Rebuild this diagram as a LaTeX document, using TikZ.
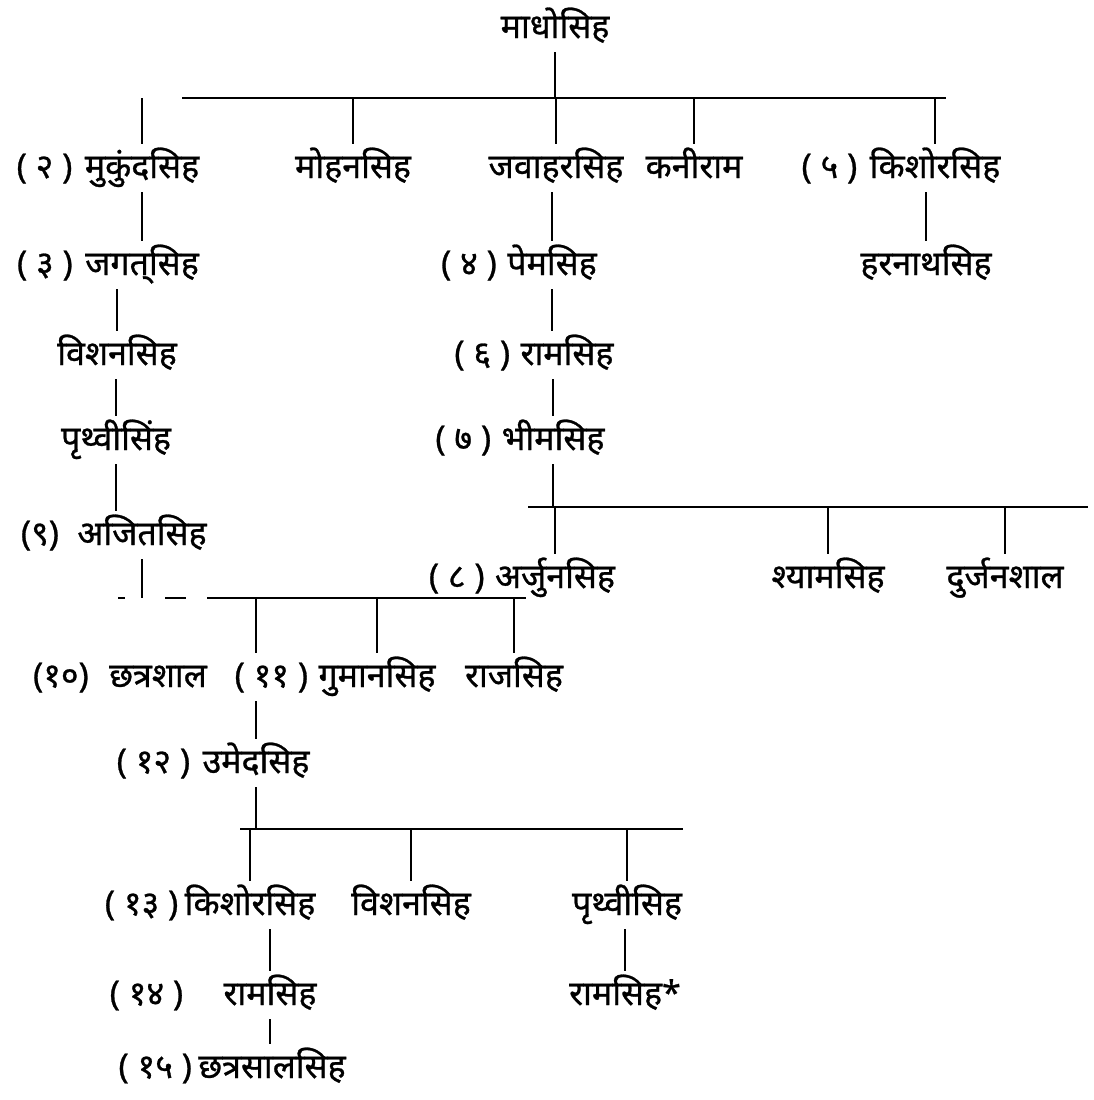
\documentclass[tikz,border=0pt]{standalone}
\usepackage{fontspec}
\newfontfamily\deva[Script=Devanagari, FakeBold=0.8]{Noto Sans}
\usetikzlibrary{positioning}

\begin{document}
\begin{tikzpicture}[x=1pt, y=-1pt, node distance=12pt,
    every node/.style={font=\deva\fontsize{34}{40}\selectfont, inner xsep=0pt, inner ysep=4pt, text height=30pt, text depth=10pt},
    link/.style={line width=2.5pt}]
  \useasboundingbox (0,0) rectangle (1094,1100);

  % top
  \node (madho) at (555,28) {माधोसिह};
  \coordinate (topL) at (182,98);
  \coordinate (topR) at (946,98);

  \node (mukund) at (142,168) {मुकुंदसिह};
  \node[left=of mukund] (mukundnr) {( २ )};
  \node (mohan) at (353,168) {मोहनसिह};
  \node (jawahar) at (556,168) {जवाहरसिह};
  \node (kaniram) at (694,168) {कनीराम};
  \node (kishor) at (935,168) {किशोरसिह};
  \node[left=of kishor] (kishornr) {( ५ )};

  \node (jagat) at (142,265) {जगत्^^^^200cसिह};
  \node[left=of jagat] (jagatnr) {( ३ )};
  \node (pema) at (552,265) {पेमसिह};
  \node[left=10pt of pema] (pemanr) {( ४ )};
  \node (harnath) at (926,265) {हरनाथसिह};

  \node (bishan) at (117,355) {विशनसिह};
  \node (rama) at (567,355) {रामसिह};
  \node[left=10pt of rama] (ramanr) {( ६ )};
  \node (prithvi) at (116,440) {पृथ्वीसिंह};
  \node (bhima) at (553,440) {भीमसिह};
  \node[left=10pt of bhima] (bhimanr) {( ७ )};
  \coordinate (midL) at (528,507);
  \coordinate (midR) at (1088,507);

  \node (ajit) at (142,535) {अजितसिह};
  \node[left=18pt of ajit] (ajitnr) {(९)};
  \node (arjun) at (555,578) {अर्जुनसिह};
  \node[left=10pt of arjun] (arjunnr) {( ८ )};
  \node (shyam) at (828,578) {श्यामसिह};
  \node (durjan) at (1005,578) {दुर्जनशाल};
  \coordinate (lowL) at (118,598);
  \coordinate (lowR) at (526,598);

  \node (chhatra) at (158,677) {छत्रशाल};
  \node[left=20pt of chhatra] (chhatranr) {(१०)};
  \node (guman) at (377,677) {गुमानसिह};
  \node[left=10pt of guman] (gumannr) {( ११ )};
  \node (raja) at (514,677) {राजसिह};

  \node (umed) at (256,763) {उमेदसिह};
  \node[left=of umed] (umednr) {( १२ )};
  \coordinate (botL) at (240,829);
  \coordinate (botR) at (683,829);

  \node (kishorb) at (250,905) {किशोरसिह};
  \node[left=6pt of kishorb] (kishorbnr) {( १३ )};
  \node (bishanb) at (411,905) {विशनसिह};
  \node (prithvib) at (627,905) {पृथ्वीसिह};
  \node (ramb) at (270,995) {रामसिह};
  \node[left=40pt of ramb] (rambnr) {( १४ )};
  \node (ramc) at (625,995) {रामसिह*};
  \node (chhatrasal) at (272,1068) {छत्रसालसिह};
  \node[left=6pt of chhatrasal] (chhatrasalnr) {( १५ )};

  % lines
  \draw[link] (madho) -- (madho |- topL);
  \draw[link] (topL) -- (topR);
  \foreach \k in {mukund, mohan, jawahar, kaniram, kishor}
    \draw[link] (\k) -- (\k |- topL);
  \draw[link] (jagat) -- (jagat |- mukund.south);
  \draw[link] (bishan) -- (bishan |- jagat.south);
  \draw[link] (prithvi) -- (prithvi |- bishan.south);
  \draw[link] (prithvi) -- (prithvi |- ajit.north);
  \draw[link] (ajit) -- (ajit |- lowL);
  \draw[link] (harnath) -- (harnath |- kishor.south);
  \draw[link] (pema) -- (pema |- jawahar.south);
  \draw[link] (pema) -- (pema |- rama.north);
  \draw[link] (bhima) -- (bhima |- rama.south);
  \draw[link] (bhima) -- (bhima |- midL);
  \draw[link] (midL) -- (midR);
  \foreach \k in {arjun, shyam, durjan}
    \draw[link] (\k) -- (\k |- midL);
  \draw[link, dash pattern=on 7pt off 40pt on 21pt off 21pt on 330pt] (lowL) -- (lowR);
  \draw[link] (umed |- lowL) -- (umed |- guman.north);
  \foreach \k in {guman, raja}
    \draw[link] (\k) -- (\k |- lowL);
  \draw[link] (umed) -- (umed |- guman.south);
  \draw[link] (umed) -- (umed |- botL);
  \draw[link] (botL) -- (botR);
  \foreach \k in {kishorb, bishanb, prithvib}
    \draw[link] (\k) -- (\k |- botL);
  \draw[link] (ramb) -- (ramb |- kishorb.south);
  \draw[link] (ramb) -- (ramb |- chhatrasal.north);
  \draw[link] (ramc) -- (ramc |- prithvib.south);
\end{tikzpicture}
\end{document}
